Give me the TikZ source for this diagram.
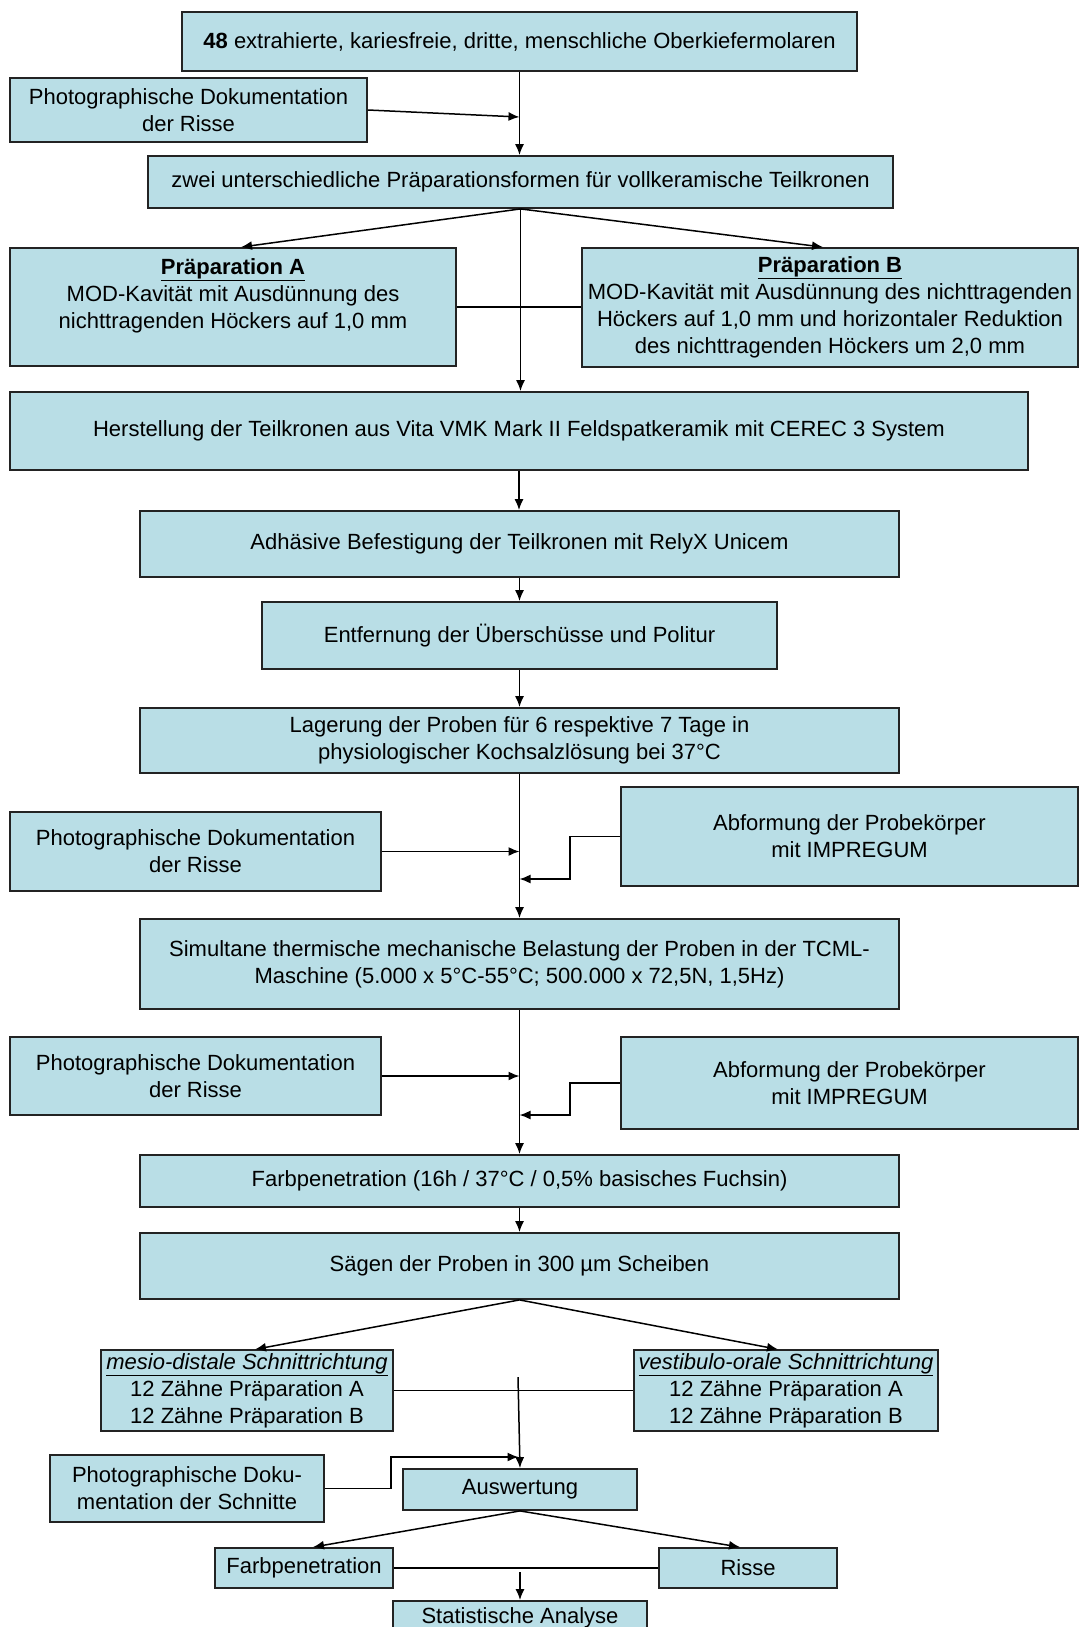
\documentclass[tikz,border=0pt]{standalone}
\usepackage{fontspec}
\setmainfont{Liberation Sans}
\usetikzlibrary{arrows.meta}
\definecolor{boxfill}{RGB}{185,222,230}
\definecolor{boxline}{RGB}{35,35,35}
\begin{document}
\begin{tikzpicture}[x=1pt,y=-1pt,
  box/.style={draw=boxline, fill=boxfill, line width=1.8pt, align=center, inner sep=3pt,
    font=\fontsize{22}{27}\selectfont},
  arr/.style={line width=1.5pt, -{Latex[length=11pt,width=9pt]}},
  ln/.style={line width=1.5pt}]
\clip (0,0) rectangle (1080,1627);
\fill[white] (0,0) rectangle (1080,1627);

% nodes
\node[box, minimum width=675pt, minimum height=59pt] (top) at (519.5,41.5)
  {\textbf{48} extrahierte, kariesfreie, dritte, menschliche Oberkiefermolaren};
\node[box, minimum width=357pt, minimum height=64pt] (photo1) at (188.5,110)
  {Photographische Dokumentation\\der Risse};
\node[box, minimum width=745pt, minimum height=52pt] (zwei) at (520.5,182)
  {zwei unterschiedliche Präparationsformen für vollkeramische Teilkronen};
\node[box, minimum width=446pt, minimum height=118pt] (prepA) at (233,307)
  {\textbf{\underline{Präparation A}}\\MOD-Kavität mit Ausdünnung des\\nichttragenden Höckers auf 1,0 mm\\\mbox{}};
\node[box, minimum width=496pt, minimum height=119pt] (prepB) at (830,307.5)
  {\textbf{\underline{Präparation B}}\\MOD-Kavität mit Ausdünnung des nichttragenden\\Höckers auf 1,0 mm und horizontaler Reduktion\\des nichttragenden Höckers um 2,0 mm};
\node[box, minimum width=1018pt, minimum height=78pt] (herst) at (519,431)
  {Herstellung der Teilkronen aus Vita VMK Mark II Feldspatkeramik mit CEREC 3 System};
\node[box, minimum width=759pt, minimum height=66pt] (adh) at (519.5,544)
  {Adhäsive Befestigung der Teilkronen mit RelyX Unicem};
\node[box, minimum width=515pt, minimum height=67pt] (entf) at (519.5,635.5)
  {Entfernung der Überschüsse und Politur};
\node[box, minimum width=759pt, minimum height=65pt] (lager) at (519.5,740.5)
  {Lagerung der Proben für 6 respektive 7 Tage in\\physiologischer Kochsalzlösung bei 37°C};
\node[box, minimum width=371pt, minimum height=79pt] (photo2) at (195.5,851.5)
  {Photographische Dokumentation\\der Risse};
\node[box, minimum width=457pt, minimum height=99pt] (abf1) at (849.5,836.5)
  {Abformung der Probekörper\\mit IMPREGUM};
\node[box, minimum width=759pt, minimum height=90pt] (simul) at (519.5,964)
  {Simultane thermische mechanische Belastung der Proben in der TCML-\\Maschine (5.000 x 5°C-55°C; 500.000 x 72,5N, 1,5Hz)};
\node[box, minimum width=371pt, minimum height=78pt] (photo3) at (195.5,1076)
  {Photographische Dokumentation\\der Risse};
\node[box, minimum width=457pt, minimum height=92pt] (abf2) at (849.5,1083)
  {Abformung der Probekörper\\mit IMPREGUM};
\node[box, minimum width=759pt, minimum height=52pt] (farb) at (519.5,1181)
  {Farbpenetration (16h / 37°C / 0,5\% basisches Fuchsin)};
\node[box, minimum width=759pt, minimum height=66pt] (saegen) at (519.5,1266)
  {Sägen der Proben in 300 µm Scheiben};
\node[box, minimum width=292pt, minimum height=79pt] (mesio) at (247,1390.5)
  {\textit{\underline{mesio-distale Schnittrichtung}}\\12 Zähne Präparation A\\12 Zähne Präparation B};
\node[box, minimum width=304pt, minimum height=79pt] (vest) at (786,1390.5)
  {\textit{\underline{vestibulo-orale Schnittrichtung}}\\12 Zähne Präparation A\\12 Zähne Präparation B};
\node[box, minimum width=274pt, minimum height=67pt] (photo4) at (187,1488.5)
  {Photographische Doku-\\mentation der Schnitte};
\node[box, minimum width=234pt, minimum height=41pt] (ausw) at (520,1489.5)
  {Auswertung};
\node[box, minimum width=178pt, minimum height=40pt] (farb2) at (304,1568)
  {Farbpenetration};
\node[box, minimum width=178pt, minimum height=40pt] (risse) at (748,1568)
  {Risse};
\node[box, minimum width=254pt, minimum height=34pt] (stat) at (520,1618)
  {Statistische Analyse};

% helper coordinates on the spine
\coordinate (j1) at (519.5,117);
\coordinate (k1) at (519.5,879);
\coordinate (k2) at (519.5,1115);
\coordinate (s1) at (518,1377);
\coordinate (j4) at (518.5,1457);
\coordinate (s2) at (520,1572);

% connectors
\draw[arr] (top.south) -- (top.south |- zwei.north);
\draw[arr] (photo1.east) -- (j1);
\draw[arr] (zwei.south) -- ([xshift=8pt]prepA.north);
\draw[arr] (zwei.south) -- ([xshift=-7pt]prepB.north);
\draw[arr] (zwei.south) -- (zwei.south |- herst.north);
\draw[ln] (prepA.east) -- (prepA.east -| prepB.west);
\draw[arr] (herst.south) -- (herst.south |- adh.north);
\draw[arr] (adh.south) -- (adh.south |- entf.north);
\draw[arr] (entf.south) -- (entf.south |- lager.north);
\draw[arr] (lager.south) -- (lager.south |- simul.north);
\draw[arr] (photo2.east) -- (photo2.east -| lager.south);
\draw[arr] (abf1.west) -- ++(-50,0) |- (k1);
\draw[arr] (simul.south) -- (simul.south |- farb.north);
\draw[arr] (photo3.east) -- (photo3.east -| simul.south);
\draw[arr] (abf2.west) -- ++(-50,0) |- (k2);
\draw[arr] (farb.south) -- (farb.south |- saegen.north);
\draw[arr] (saegen.south) -- ([xshift=8pt]mesio.north);
\draw[arr] (saegen.south) -- ([xshift=-8pt]vest.north);
\draw[ln] (mesio.east) -- (vest.west);
\draw[arr] (s1) -- (ausw.north);
\draw[arr] (photo4.east) -- (391,1488.5) |- (j4);
\draw[arr] (ausw.south) -- ([xshift=9pt]farb2.north);
\draw[arr] (ausw.south) -- ([xshift=-8pt]risse.north);
\draw[ln] (farb2.east) -- (risse.west);
\draw[arr] (s2) -- (stat.north);
\end{tikzpicture}
\end{document}
